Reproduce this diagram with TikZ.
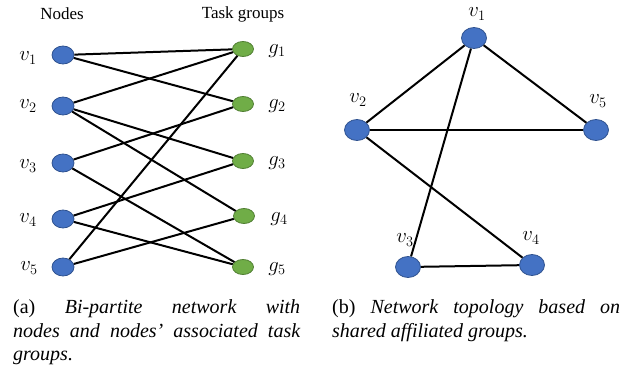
\documentclass[tikz,border=0pt]{standalone}
\usepackage{fontspec}
\setmainfont{Liberation Serif}
\usetikzlibrary{shapes.geometric}
\definecolor{nblue}{HTML}{4472C4}
\definecolor{nblueedge}{HTML}{2F528F}
\definecolor{ngreen}{HTML}{70AD47}
\definecolor{ngreenedge}{HTML}{507E32}
\begin{document}
\begin{tikzpicture}[x=1pt,y=-1pt,
  bnode/.style={ellipse, fill=nblue, draw=nblueedge, line width=0.8pt, minimum width=22pt, minimum height=18pt, inner sep=0pt},
  rbnode/.style={bnode, minimum width=25pt, minimum height=21pt},
  gnode/.style={ellipse, fill=ngreen, draw=ngreenedge, line width=0.8pt, minimum width=21pt, minimum height=15pt, inner sep=0pt},
  lab/.style={font=\fontsize{21}{24}\selectfont, inner sep=0pt},
  head/.style={font=\fontsize{17}{20}\selectfont, inner sep=0pt},
  conn/.style={line width=2pt, black},
  captxt/.style={anchor=north west, inner sep=0pt, align=justify, font=\fontsize{20}{23.5}\selectfont}]
\useasboundingbox (0,0) rectangle (628,372);
% left panel
\node[head] (hn) at (62,14) {Nodes};
\node[head] (hg) at (243,14) {Task groups};
\node[bnode] (a1) at (63,55) {};
\node[bnode] (a2) at (63,106) {};
\node[bnode] (a3) at (63,163) {};
\node[bnode] (a4) at (63,219) {};
\node[bnode] (a5) at (63,267) {};
\node[gnode] (g1) at (243,49) {};
\node[gnode] (g2) at (243,104) {};
\node[gnode] (g3) at (243,161) {};
\node[gnode] (g4) at (244,216) {};
\node[gnode] (g5) at (243,267) {};
\node[lab] (la1) at (28,58) {$v_1$};
\node[lab] (la2) at (28,106) {$v_2$};
\node[lab] (la3) at (28,166) {$v_3$};
\node[lab] (la4) at (28,220) {$v_4$};
\node[lab] (la5) at (29,268) {$v_5$};
\node[lab] (lg1) at (277,51) {$g_1$};
\node[lab] (lg2) at (277,106) {$g_2$};
\node[lab] (lg3) at (277,163) {$g_3$};
\node[lab] (lg4) at (279,219) {$g_4$};
\node[lab] (lg5) at (277,269) {$g_5$};
\draw[conn] (a1) -- (g1);
\draw[conn] (a1) -- (g2);
\draw[conn] (a2) -- (g1);
\draw[conn] (a2) -- (g3);
\draw[conn] (a2) -- (g4);
\draw[conn] (a3) -- (g2);
\draw[conn] (a3) -- (g5);
\draw[conn] (a4) -- (g3);
\draw[conn] (a4) -- (g5);
\draw[conn] (a5) -- (g1);
\draw[conn] (a5) -- (g4);
% right panel
\node[rbnode] (b1) at (474,38) {};
\node[rbnode] (b2) at (357,130) {};
\node[rbnode] (b5) at (596,130) {};
\node[rbnode] (b3) at (408,267) {};
\node[rbnode] (b4) at (532,265) {};
\node[lab] (lb1) at (477,14) {$v_1$};
\node[lab] (lb2) at (358,100) {$v_2$};
\node[lab] (lb5) at (598,101) {$v_5$};
\node[lab] (lb3) at (405,240) {$v_3$};
\node[lab] (lb4) at (531,238) {$v_4$};
\draw[conn] (b1) -- (b2);
\draw[conn] (b1) -- (b5);
\draw[conn] (b1) -- (b3);
\draw[conn] (b2) -- (b5);
\draw[conn] (b2) -- (b4);
\draw[conn] (b3) -- (b4);
% captions
\node[captxt, text width=287pt] (ca) at (13,299.5) {(a) \textit{Bi-partite network with\linebreak nodes and nodes' associated task\linebreak groups.}};
\node[captxt, text width=288pt] (cb) at (332,299.5) {(b) \textit{Network topology based on\linebreak shared affiliated groups.}};
\end{tikzpicture}
\end{document}
